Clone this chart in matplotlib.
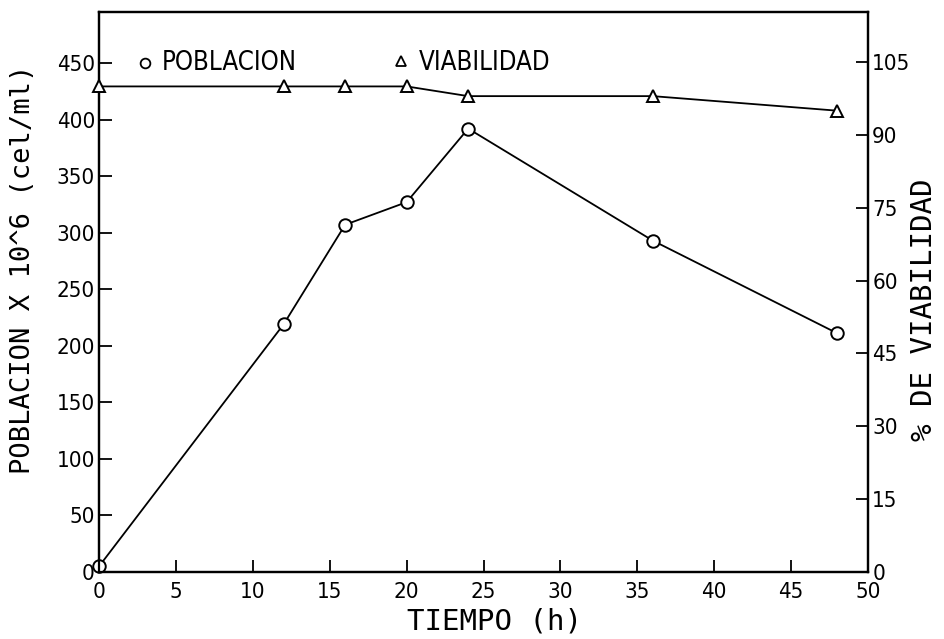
import matplotlib
matplotlib.use("Agg")
import matplotlib.pyplot as plt

# Culture growth data
tiempo = [0, 12, 16, 20, 24, 36, 48]
poblacion = [5, 219, 307, 327, 392, 293, 211]
viabilidad = [100, 100, 100, 100, 98, 98, 95]

x_ticks = [0, 5, 10, 15, 20, 25, 30, 35, 40, 45, 50]
left_ticks = [0, 50, 100, 150, 200, 250, 300, 350, 400, 450]
right_ticks = [0, 15, 30, 45, 60, 75, 90, 105]

cond = dict(family="DejaVu Sans", stretch="condensed")
mono = dict(family="DejaVu Sans Mono")

fig = plt.figure(figsize=(9.44, 6.39), dpi=100)
ax = fig.add_axes([0.105, 0.105, 0.8145, 0.876])
ax2 = ax.twinx()

ax.plot(tiempo, poblacion, color="black", lw=1.3, marker="o", ms=9,
        mfc="white", mec="black", mew=1.4, clip_on=False, zorder=3)
ax2.plot(tiempo, viabilidad, color="black", lw=1.3, marker="^", ms=9,
         mfc="white", mec="black", mew=1.4, clip_on=False, zorder=3)

ax.set_xlim(0, 50)
ax.set_ylim(0, 495)
ax2.set_ylim(0, 115.3)

ax.set_xticks(x_ticks)
ax.set_yticks(left_ticks)
ax2.set_yticks(right_ticks)

for a in (ax, ax2):
    for s in a.spines.values():
        s.set_linewidth(1.6)
    a.tick_params(direction="in", length=9, width=1.3, labelsize=16)
    for lbl in a.get_xticklabels() + a.get_yticklabels():
        lbl.set_fontfamily("DejaVu Sans")
        lbl.set_fontstretch("condensed")
ax.tick_params(axis="x", pad=7)
ax.tick_params(axis="y", pad=3)
ax2.tick_params(axis="y", pad=3)

fig.text(0.524, 0.028, "TIEMPO (h)", fontsize=21, ha="center", va="center",
         **mono)
fig.text(0.024, 0.579, "POBLACION X 10^6 (cel/ml)", fontsize=19.5,
         rotation=90, ha="center", va="center", **mono)
fig.text(0.979, 0.516, "% DE VIABILIDAD", fontsize=21,
         rotation=90, ha="center", va="center", **mono)

# Legend entries drawn as text with marker symbols
ax.plot([3.0], [450], marker="o", ms=7, mfc="white", mec="black", mew=1.3,
        ls="none")
ax.text(4.1, 450, "POBLACION", fontsize=18.5, va="center", **cond)
ax.plot([19.6], [452], marker="^", ms=7, mfc="white", mec="black", mew=1.3,
        ls="none")
ax.text(20.8, 450, "VIABILIDAD", fontsize=18.5, va="center", **cond)

fig.savefig("out.png", dpi=100)
